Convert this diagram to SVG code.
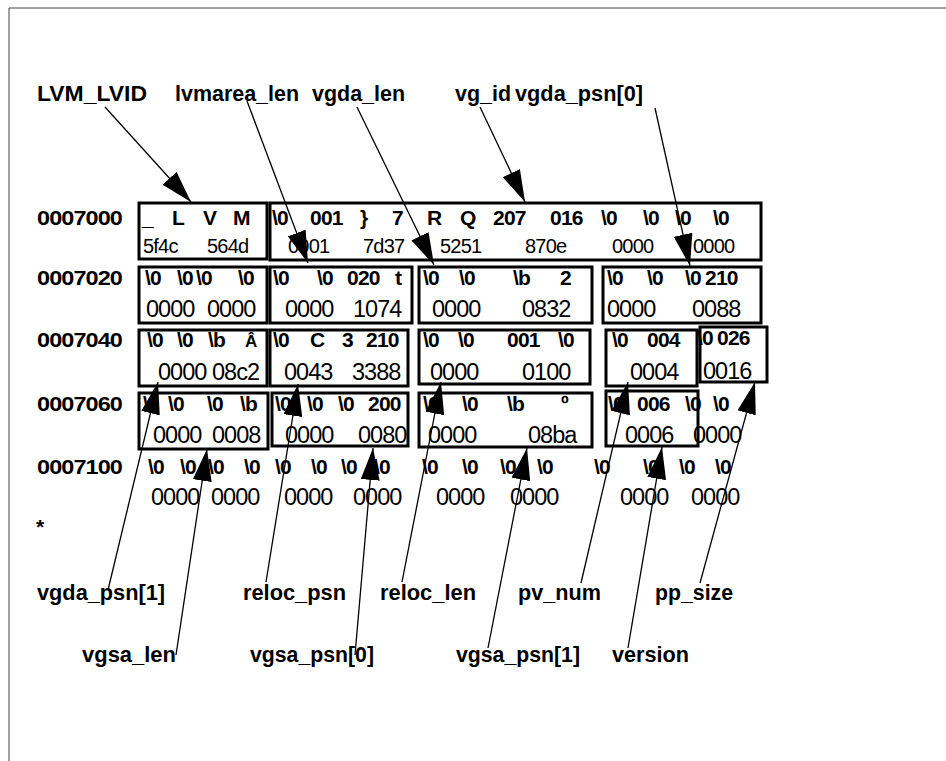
<svg xmlns="http://www.w3.org/2000/svg" width="946" height="761" viewBox="0 0 946 761">
<style>
text{font-family:"Liberation Sans",Arial,Helvetica,sans-serif;fill:#000}
.lbl{font-size:22px;font-weight:bold}
.b{font-size:21px;font-weight:bold;letter-spacing:-0.8px}
.r{font-size:23.5px;letter-spacing:-1px}
.r1{font-size:20px;letter-spacing:-0.8px}
.box{fill:none;stroke:#000;stroke-width:3}
.conn line{stroke:#000;stroke-width:1.3;marker-end:url(#ah)}
.frame{stroke:#444;stroke-width:1;fill:none}
</style>
<defs>
<marker id="ah" markerUnits="userSpaceOnUse" viewBox="0 0 32 19" markerWidth="32" markerHeight="19" refX="32" refY="9.5" orient="auto">
<path d="M0,0 L32,9.5 L0,19 z" fill="#000"/>
</marker>
</defs>
<rect width="946" height="761" fill="#fff"/>
<path class="frame" d="M9,761 L9,8 L946,8"/>

<g id="labels-top">
<g id="lbl-lvm-lvid"><text class="lbl" x="37" y="101" textLength="110" lengthAdjust="spacingAndGlyphs">LVM_LVID</text></g>
<g id="lbl-lvmarea-len"><text class="lbl" x="175" y="101" textLength="124" lengthAdjust="spacingAndGlyphs">lvmarea_len</text></g>
<g id="lbl-vgda-len"><text class="lbl" x="312" y="101" textLength="93" lengthAdjust="spacingAndGlyphs">vgda_len</text></g>
<g id="lbl-vg-id"><text class="lbl" x="455" y="101" textLength="56" lengthAdjust="spacingAndGlyphs">vg_id</text></g>
<g id="lbl-vgda-psn0"><text class="lbl" x="515" y="101" textLength="128" lengthAdjust="spacingAndGlyphs">vgda_psn[0]</text></g>
</g>

<g id="labels-bottom">
<g id="lbl-vgda-psn1"><text class="lbl" x="37" y="600" textLength="128" lengthAdjust="spacingAndGlyphs">vgda_psn[1]</text></g>
<g id="lbl-reloc-psn"><text class="lbl" x="243" y="600" textLength="103" lengthAdjust="spacingAndGlyphs">reloc_psn</text></g>
<g id="lbl-reloc-len"><text class="lbl" x="380" y="600" textLength="96" lengthAdjust="spacingAndGlyphs">reloc_len</text></g>
<g id="lbl-pv-num"><text class="lbl" x="518" y="600" textLength="83" lengthAdjust="spacingAndGlyphs">pv_num</text></g>
<g id="lbl-pp-size"><text class="lbl" x="655" y="600" textLength="78" lengthAdjust="spacingAndGlyphs">pp_size</text></g>
<g id="lbl-vgsa-len"><text class="lbl" x="82" y="662" textLength="94" lengthAdjust="spacingAndGlyphs">vgsa_len</text></g>
<g id="lbl-vgsa-psn0"><text class="lbl" x="250" y="662" textLength="124" lengthAdjust="spacingAndGlyphs">vgsa_psn[0]</text></g>
<g id="lbl-vgsa-psn1"><text class="lbl" x="456" y="662" textLength="124" lengthAdjust="spacingAndGlyphs">vgsa_psn[1]</text></g>
<g id="lbl-version"><text class="lbl" x="612" y="662" textLength="77" lengthAdjust="spacingAndGlyphs">version</text></g>
</g>

<g id="addresses">
<text class="b" x="37" y="225" textLength="85" lengthAdjust="spacingAndGlyphs">0007000</text>
<text class="b" x="37" y="285" textLength="85" lengthAdjust="spacingAndGlyphs">0007020</text>
<text class="b" x="37" y="347" textLength="85" lengthAdjust="spacingAndGlyphs">0007040</text>
<text class="b" x="37" y="411" textLength="85" lengthAdjust="spacingAndGlyphs">0007060</text>
<text class="b" x="37" y="474" textLength="85" lengthAdjust="spacingAndGlyphs">0007100</text>
<text class="b" x="36" y="534">*</text>
</g>

<g id="r1-a">
<text class="b" y="225"><tspan x="142">_</tspan><tspan x="172">L</tspan><tspan x="203">V</tspan><tspan x="233">M</tspan></text>
<text class="r1" y="253"><tspan x="143">5f4c</tspan><tspan x="207">564d</tspan></text>
<rect class="box" x="139" y="203" width="128" height="56"/>
</g>
<g id="r1-b">
<text class="b" y="225"><tspan x="272">\0</tspan><tspan x="310">001</tspan><tspan x="360">}</tspan><tspan x="392">7</tspan><tspan x="427">R</tspan><tspan x="460">Q</tspan><tspan x="493">207</tspan><tspan x="550">016</tspan><tspan x="601">\0</tspan><tspan x="643">\0</tspan><tspan x="675">\0</tspan><tspan x="713">\0</tspan></text>
<text class="r1" y="253"><tspan x="288">0001</tspan><tspan x="363">7d37</tspan><tspan x="440">5251</tspan><tspan x="525">870e</tspan><tspan x="612">0000</tspan><tspan x="693">0000</tspan></text>
<rect class="box" x="270" y="203" width="491" height="57"/>
</g>

<g id="r2-a">
<text class="b" y="285"><tspan x="145">\0</tspan><tspan x="177">\0</tspan><tspan x="196">\0</tspan><tspan x="238">\0</tspan></text>
<text class="r" y="317"><tspan x="146">0000</tspan><tspan x="207">0000</tspan></text>
<rect class="box" x="139" y="267" width="128" height="56"/>
</g>
<g id="r2-b">
<text class="b" y="285"><tspan x="273">\0</tspan><tspan x="317">\0</tspan><tspan x="347">020</tspan><tspan x="395">t</tspan></text>
<text class="r" y="317"><tspan x="285">0000</tspan><tspan x="353">1074</tspan></text>
<rect class="box" x="270" y="267" width="142" height="56"/>
</g>
<g id="r2-c">
<text class="b" y="285"><tspan x="423">\0</tspan><tspan x="459">\0</tspan><tspan x="513">\b</tspan><tspan x="560">2</tspan></text>
<text class="r" y="317"><tspan x="432">0000</tspan><tspan x="522">0832</tspan></text>
<rect class="box" x="419" y="267" width="173" height="56"/>
</g>
<g id="r2-d">
<text class="b" y="285"><tspan x="607">\0</tspan><tspan x="647">\0</tspan><tspan x="685">\0</tspan><tspan x="705">210</tspan></text>
<text class="r" y="317"><tspan x="607">0000</tspan><tspan x="692">0088</tspan></text>
<rect class="box" x="603" y="267" width="158" height="56"/>
</g>

<g id="r3-a">
<text class="b" y="347"><tspan x="147">\0</tspan><tspan x="177">\0</tspan><tspan x="208">\b</tspan><tspan x="245" style="font-size:17px">Â</tspan></text>
<text class="r" y="380"><tspan x="158">0000</tspan><tspan x="212">08c2</tspan></text>
<rect class="box" x="139" y="330" width="128" height="56"/>
</g>
<g id="r3-b">
<text class="b" y="347"><tspan x="273">\0</tspan><tspan x="310">C</tspan><tspan x="342">3</tspan><tspan x="366">210</tspan></text>
<text class="r" y="380"><tspan x="284">0043</tspan><tspan x="352">3388</tspan></text>
<rect class="box" x="270" y="330" width="138" height="56"/>
</g>
<g id="r3-c">
<text class="b" y="347"><tspan x="423">\0</tspan><tspan x="458">\0</tspan><tspan x="507">001</tspan><tspan x="558">\0</tspan></text>
<text class="r" y="380"><tspan x="430">0000</tspan><tspan x="522">0100</tspan></text>
<rect class="box" x="419" y="330" width="171" height="54"/>
</g>
<g id="r3-d">
<text class="b" y="347"><tspan x="612">\0</tspan><tspan x="647">004</tspan></text>
<text class="r" y="380"><tspan x="630">0004</tspan></text>
<rect class="box" x="606" y="330" width="91" height="56"/>
</g>
<g id="r3-e">
<text class="b" y="345"><tspan x="697">\0</tspan><tspan x="717">026</tspan></text>
<text class="r" y="379"><tspan x="703">0016</tspan></text>
<rect class="box" x="700" y="327" width="67" height="55"/>
</g>

<g id="r4-a">
<text class="b" y="411"><tspan x="143">\0</tspan><tspan x="168">\0</tspan><tspan x="207">\0</tspan><tspan x="240">\b</tspan></text>
<text class="r" y="443"><tspan x="153">0000</tspan><tspan x="212">0008</tspan></text>
<rect class="box" x="139" y="393" width="129" height="56"/>
</g>
<g id="r4-b">
<text class="b" y="411"><tspan x="275">\0</tspan><tspan x="307">\0</tspan><tspan x="338">\0</tspan><tspan x="368">200</tspan></text>
<text class="r" y="443"><tspan x="285">0000</tspan><tspan x="358">0080</tspan></text>
<rect class="box" x="272" y="393" width="136" height="53"/>
</g>
<g id="r4-c">
<text class="b" y="411"><tspan x="423">\0</tspan><tspan x="462">\0</tspan><tspan x="507">\b</tspan><tspan x="561">º</tspan></text>
<text class="r" y="443"><tspan x="428">0000</tspan><tspan x="528">08ba</tspan></text>
<rect class="box" x="419" y="393" width="173" height="54"/>
</g>
<g id="r4-d">
<text class="b" y="411"><tspan x="608">\0</tspan><tspan x="637">006</tspan><tspan x="685">\0</tspan><tspan x="713">\0</tspan></text>
<text class="r" y="443"><tspan x="625">0006</tspan><tspan x="693">0000</tspan></text>
<rect class="box" x="606" y="391" width="92" height="55"/>
</g>

<g id="r5">
<text class="b" y="474"><tspan x="148">\0</tspan><tspan x="180">\0</tspan><tspan x="208">\0</tspan><tspan x="244">\0</tspan><tspan x="275">\0</tspan><tspan x="311">\0</tspan><tspan x="341">\0</tspan><tspan x="374">\0</tspan><tspan x="422">\0</tspan><tspan x="462">\0</tspan><tspan x="500">\0</tspan><tspan x="537">\0</tspan><tspan x="594">\0</tspan><tspan x="643">\0</tspan><tspan x="679">\0</tspan><tspan x="715">\0</tspan></text>
<text class="r" y="505"><tspan x="151">0000</tspan><tspan x="211">0000</tspan><tspan x="284">0000</tspan><tspan x="353">0000</tspan><tspan x="436">0000</tspan><tspan x="510">0000</tspan><tspan x="620">0000</tspan><tspan x="691">0000</tspan></text>
</g>

<g id="connectors" class="conn">
<line x1="105" y1="107" x2="191" y2="202"/>
<line x1="247" y1="101" x2="308" y2="263"/>
<line x1="357" y1="107" x2="434" y2="265"/>
<line x1="480" y1="107" x2="525" y2="202"/>
<line x1="655" y1="108" x2="690" y2="266"/>
<line x1="108" y1="590" x2="158" y2="382"/>
<line x1="176" y1="655" x2="207" y2="449"/>
<line x1="266" y1="582" x2="298" y2="384"/>
<line x1="355" y1="655" x2="373" y2="448"/>
<line x1="402" y1="582" x2="441" y2="382"/>
<line x1="488" y1="648" x2="527" y2="448"/>
<line x1="581" y1="583" x2="628" y2="382"/>
<line x1="628" y1="648" x2="662" y2="447"/>
<line x1="700" y1="583" x2="755" y2="382"/>
</g>
</svg>
